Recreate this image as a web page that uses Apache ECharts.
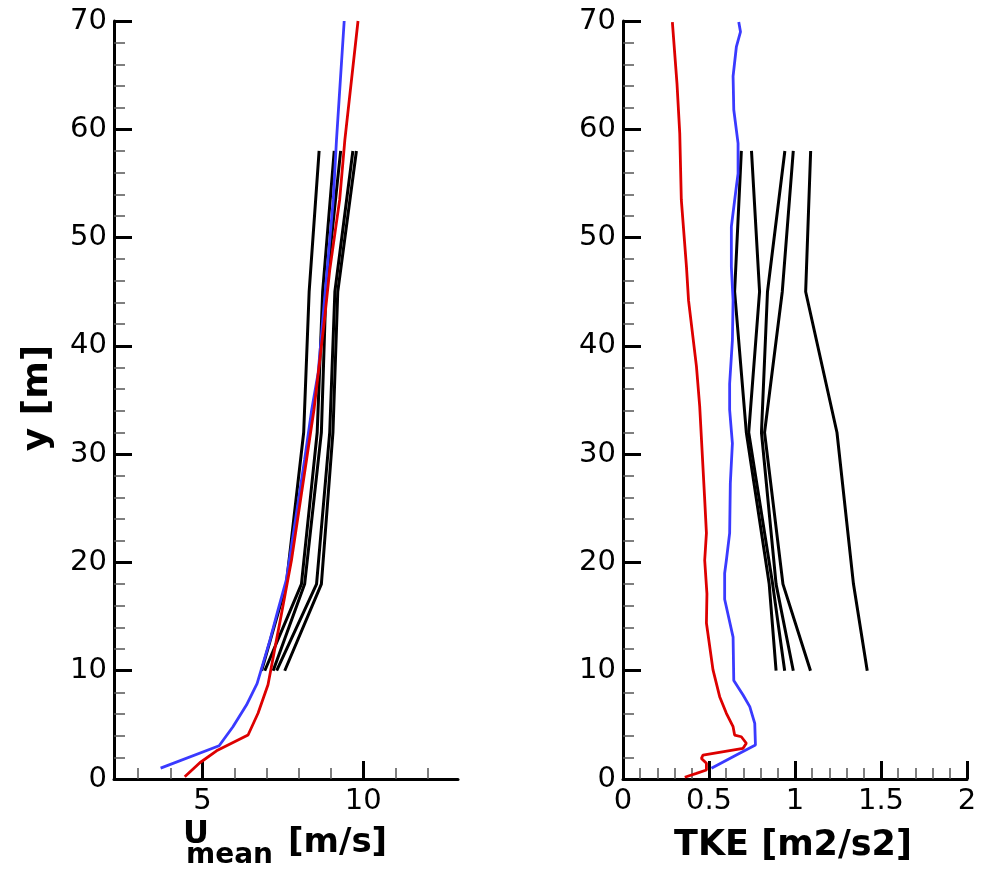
<!DOCTYPE html>
<html>
<head>
<meta charset="utf-8">
<script src="https://cdn.jsdelivr.net/npm/echarts@6/dist/echarts.min.js"></script>
<style>
  html, body { margin: 0; padding: 0; background: #fff; }
  #profiles { width: 984px; height: 869px; }
</style>
</head>
<body>
<div id="profiles"></div>
<script>
// tower heights of the measured profiles (black lines)
const towerY = [10, 18, 32, 45, 58];

// mean velocity, measurements
const uMeas1 = [6.84, 7.61, 8.15, 8.32, 8.63];
const uMeas2 = [6.94, 8.08, 8.57, 8.74, 9.10];
const uMeas3 = [7.20, 8.18, 8.70, 8.84, 9.30];
const uMeas4 = [7.31, 8.55, 8.96, 9.12, 9.68];
const uMeas5 = [7.56, 8.70, 9.06, 9.21, 9.79];

// mean velocity, blue simulation
const uBlueY = [1, 3.07, 4.83, 6.83, 8.8, 12.8, 15.6, 18.4, 29.5, 34.1, 37.5, 53.5, 59, 70];
const uBlueX = [3.70, 5.52, 5.95, 6.37, 6.70, 7.10, 7.35, 7.61, 8.18, 8.40, 8.60, 9.07, 9.17, 9.41];

// mean velocity, red simulation
const uRedY = [0.2, 1.5, 2.6, 4.06, 6.07, 8.7, 12.8, 15.1, 20.2, 29.5, 34.1, 42.5, 47, 53.5, 59, 70];
const uRedX = [4.45, 4.92, 5.44, 6.42, 6.73, 7.04, 7.30, 7.45, 7.77, 8.24, 8.47, 8.80, 8.96, 9.27, 9.43, 9.84];

// TKE, measurements
const kMeas1 = [0.89, 0.85, 0.717, 0.649, 0.688];
const kMeas2 = [0.94, 0.87, 0.731, 0.794, 0.747];
const kMeas3 = [0.99, 0.89, 0.805, 0.840, 0.941];
const kMeas4 = [1.09, 0.93, 0.823, 0.926, 0.990];
const kMeas5 = [1.42, 1.34, 1.244, 1.062, 1.091];

// TKE, red simulation
const kRedY = [0.16, 0.52, 0.83, 1.45, 1.9, 2.2, 2.83, 3.3, 3.9, 4.06, 4.83, 6.07, 7.6, 10.1, 14.4, 17.1, 20.2, 22.7, 25.8, 34.4, 38.1, 44.2, 47.3, 53.5, 59.6, 64.2, 69.9];
const kRedX = [0.359, 0.427, 0.485, 0.485, 0.456, 0.465, 0.698, 0.717, 0.688, 0.649, 0.640, 0.601, 0.562, 0.523, 0.485, 0.488, 0.475, 0.485, 0.475, 0.446, 0.427, 0.381, 0.369, 0.339, 0.330, 0.314, 0.287];

// TKE, blue simulation
const kBlueY = [0.99, 2.22, 3.14, 5.14, 6.68, 7.76, 9.1, 13.1, 16.6, 19.0, 20.2, 22.7, 27.3, 31.0, 34.1, 36.5, 40.5, 44.2, 47.3, 51.0, 54.7, 55.9, 58.7, 61.8, 64.9, 67.6, 69.0, 69.9];
const kBlueX = [0.514, 0.659, 0.770, 0.766, 0.737, 0.698, 0.644, 0.640, 0.591, 0.591, 0.601, 0.620, 0.624, 0.636, 0.620, 0.620, 0.636, 0.640, 0.630, 0.630, 0.659, 0.669, 0.669, 0.644, 0.640, 0.659, 0.683, 0.673];

// tick values
const uMajorTicks = [5, 10];
const uMinorTicks = [3, 4, 6, 7, 8, 9, 11, 12];
const kMinorTicks = [0.1, 0.2, 0.3, 0.4, 0.6, 0.7, 0.8, 0.9, 1.1, 1.2, 1.3, 1.4, 1.6, 1.7, 1.8, 1.9];
const yMinorTicks = [2, 4, 6, 8, 12, 14, 16, 18, 22, 24, 26, 28, 32, 34, 36, 38, 42, 44, 46, 48, 52, 54, 56, 58, 62, 64, 66, 68];

const zip = (xs, ys) => xs.map((x, i) => [x, ys[i]]);

const FONT = 'DejaVu Sans';
const PLOT_W = 344;

function lineSeries (xs, ys, color, width, panel) {
  return {
    type: 'line',
    xAxisIndex: panel === 0 ? 0 : 2,
    yAxisIndex: panel === 0 ? 0 : 2,
    data: zip(xs, ys),
    showSymbol: false,
    symbol: 'none',
    silent: true,
    lineStyle: { color: color, width: width },
    z: color === '#000' ? 2 : 3
  };
}

const tickLabel = { color: '#000', fontSize: 29, fontFamily: FONT };
const majorTick = { show: true, inside: true, length: 18, lineStyle: { color: '#000', width: 3 } };
const minorTickStyle = { color: '#555', width: 1.5 };

function majorY (grid) {
  return {
    gridIndex: grid,
    type: 'value',
    position: 'left',
    min: 0,
    max: 70,
    interval: 10,
    axisLine: { show: true, onZero: false, lineStyle: { color: '#000', width: 3 } },
    axisTick: majorTick,
    axisLabel: Object.assign({ margin: 7 }, tickLabel),
    splitLine: { show: false }
  };
}

// extra axes used only to draw the minor ticks pointing into the plot
function minorX (grid, min, max, ticks) {
  return {
    gridIndex: grid,
    type: 'value',
    position: 'bottom',
    min: min,
    max: max,
    axisLine: { show: false, onZero: false },
    axisTick: { show: true, inside: true, length: 11, customValues: ticks, lineStyle: minorTickStyle },
    axisLabel: { show: false },
    splitLine: { show: false }
  };
}

function minorY (grid, ticks) {
  // a right-hand axis shifted back onto the left edge, ticks pointing right
  return {
    gridIndex: grid,
    type: 'value',
    position: 'right',
    offset: -PLOT_W,
    min: 0,
    max: 70,
    axisLine: { show: false, onZero: false },
    axisTick: { show: true, inside: false, length: 11, customValues: ticks, lineStyle: minorTickStyle },
    axisLabel: { show: false },
    splitLine: { show: false }
  };
}

const chart = echarts.init(document.getElementById('profiles'));
chart.setOption({
  animation: false,
  backgroundColor: '#fff',
  grid: [
    { left: 114, top: 21, width: PLOT_W, height: 758, outerBoundsMode: 'none' },
    { left: 623, top: 21, width: PLOT_W, height: 758, outerBoundsMode: 'none' }
  ],
  xAxis: [
    {
      gridIndex: 0,
      type: 'value',
      position: 'bottom',
      min: 2.25,
      max: 12.95,
      axisLine: { show: true, onZero: false, lineStyle: { color: '#000', width: 3 } },
      axisTick: Object.assign({ customValues: uMajorTicks }, majorTick),
      axisLabel: Object.assign({ margin: 8, customValues: uMajorTicks }, tickLabel),
      splitLine: { show: false }
    },
    minorX(0, 2.25, 12.95, uMinorTicks),
    {
      gridIndex: 1,
      type: 'value',
      position: 'bottom',
      min: 0,
      max: 2,
      interval: 0.5,
      axisLine: { show: true, onZero: false, lineStyle: { color: '#000', width: 3 } },
      axisTick: majorTick,
      axisLabel: Object.assign({ margin: 8 }, tickLabel),
      splitLine: { show: false }
    },
    minorX(1, 0, 2, kMinorTicks)
  ],
  yAxis: [
    majorY(0),
    minorY(0, yMinorTicks),
    majorY(1),
    minorY(1, yMinorTicks)
  ],
  series: [
    lineSeries(uMeas1, towerY, '#000', 3, 0),
    lineSeries(uMeas2, towerY, '#000', 3, 0),
    lineSeries(uMeas3, towerY, '#000', 3, 0),
    lineSeries(uMeas4, towerY, '#000', 3, 0),
    lineSeries(uMeas5, towerY, '#000', 3, 0),
    lineSeries(uBlueX, uBlueY, '#3a3aff', 2.8, 0),
    lineSeries(uRedX, uRedY, '#dd0000', 2.8, 0),
    lineSeries(kMeas1, towerY, '#000', 3, 1),
    lineSeries(kMeas2, towerY, '#000', 3, 1),
    lineSeries(kMeas3, towerY, '#000', 3, 1),
    lineSeries(kMeas4, towerY, '#000', 3, 1),
    lineSeries(kMeas5, towerY, '#000', 3, 1),
    lineSeries(kBlueX, kBlueY, '#3a3aff', 2.8, 1),
    lineSeries(kRedX, kRedY, '#dd0000', 2.8, 1)
  ],
  graphic: [
    {
      type: 'text',
      x: 38,
      y: 398,
      rotation: Math.PI / 2,
      style: { text: 'y [m]', font: 'bold 36px "DejaVu Sans"', fill: '#000', align: 'center', verticalAlign: 'middle' }
    },
    {
      type: 'text',
      x: 183,
      y: 835,
      style: { text: 'U', font: 'bold 32px "DejaVu Sans"', fill: '#000', align: 'left', verticalAlign: 'middle' }
    },
    {
      type: 'text',
      x: 186,
      y: 856,
      style: { text: 'mean', font: 'bold 28px "DejaVu Sans"', fill: '#000', align: 'left', verticalAlign: 'middle' }
    },
    {
      type: 'text',
      x: 288,
      y: 843,
      style: { text: '[m/s]', font: 'bold 34px "DejaVu Sans"', fill: '#000', align: 'left', verticalAlign: 'middle' }
    },
    {
      type: 'text',
      x: 793,
      y: 846,
      style: { text: 'TKE [m2/s2]', font: 'bold 35px "DejaVu Sans"', fill: '#000', align: 'center', verticalAlign: 'middle' }
    }
  ]
});
</script>
</body>
</html>
